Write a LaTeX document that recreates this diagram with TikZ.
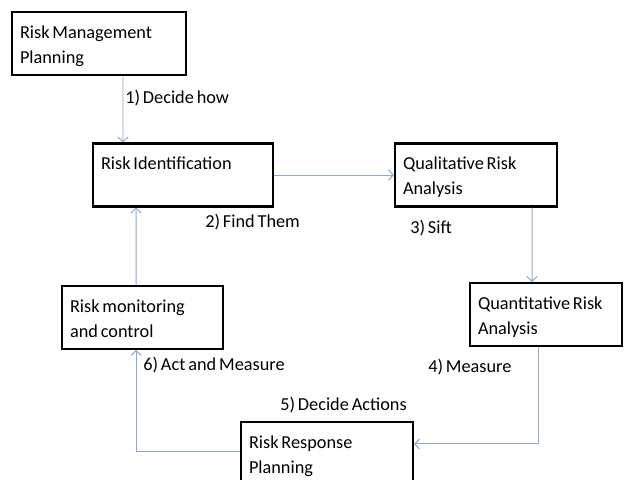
\documentclass[tikz,border=0pt]{standalone}
\usepackage{fontspec}
\setmainfont{Carlito}[WordSpace=0.7]
\usepackage{tikz}
\usetikzlibrary{arrows.meta, positioning}
\definecolor{linkblue}{RGB}{143,168,201}

\begin{document}
\begin{tikzpicture}[
        box/.style={draw, line width=1.5pt, align=flush left, inner xsep=0.2cm,
                    inner ysep=0.2cm, text height=0.45cm, text depth=0.725cm,
                    font=\fontsize{13pt}{17.8pt}\selectfont},
        lbl/.style={anchor=west, inner sep=0pt, font=\fontsize{13pt}{17.8pt}\selectfont},
        arr/.style={-{Straight Barb[length=1.2mm, width=2.6mm]}, line width=0.7pt, linkblue}
    ]
        \useasboundingbox (0,0) rectangle (15.625,-11.975);
        \clip (0,0) rectangle (15.625,-11.975);

        % process boxes
        \node[box, text width=3.95cm] (plan) at (2.475, -1.088) {Risk Management\\Planning};
        \node[box, text width=4.1cm] (ident) at (4.575, -4.375) {Risk Identification};
        \node[box, text width=3.65cm] (qual) at (11.9, -4.375) {Qualitative Risk\\Analysis};
        \node[box, text width=3.4cm] (quant) at (13.65, -7.863) {Quantitative Risk\\Analysis};
        \node[box, text width=3.625cm] (monitor) at (3.563, -7.938) {Risk monitoring\\and control};
        \node[box, text width=3.9cm] (response) at (8.175, -11.338) {Risk Response\\Planning};

        % step labels
        \node[lbl] (decide) at (3.125, -2.45) {1) Decide how};
        \node[lbl] (find) at (5.125, -5.55) {2) Find Them};
        \node[lbl] (sift) at (10.25, -5.7) {3) Sift};
        \node[lbl] (measure) at (10.7, -9.175) {4) Measure};
        \node[lbl] (actions) at (7.0, -10.125) {5) Decide Actions};
        \node[lbl] (act) at (3.575, -9.125) {6) Act and Measure};

        \draw[arr] ([xshift=0.6cm]plan.south) -- ([xshift=-1.5cm]ident.north);
        \draw[arr] (ident.east) -- (qual.west);
        \draw[arr] ([xshift=1.4cm]qual.south) -- ([xshift=-0.35cm]quant.north);
        \draw[arr] ([xshift=-0.2cm]quant.south) |- ([yshift=0.24cm]response.east);
        \draw[arr] ([yshift=0.06cm]response.west) -| ([xshift=-0.16cm]monitor.south);
        \draw[arr] ([xshift=-0.16cm]monitor.north) -- ([xshift=-1.175cm]ident.south);
    \end{tikzpicture}
\end{document}
